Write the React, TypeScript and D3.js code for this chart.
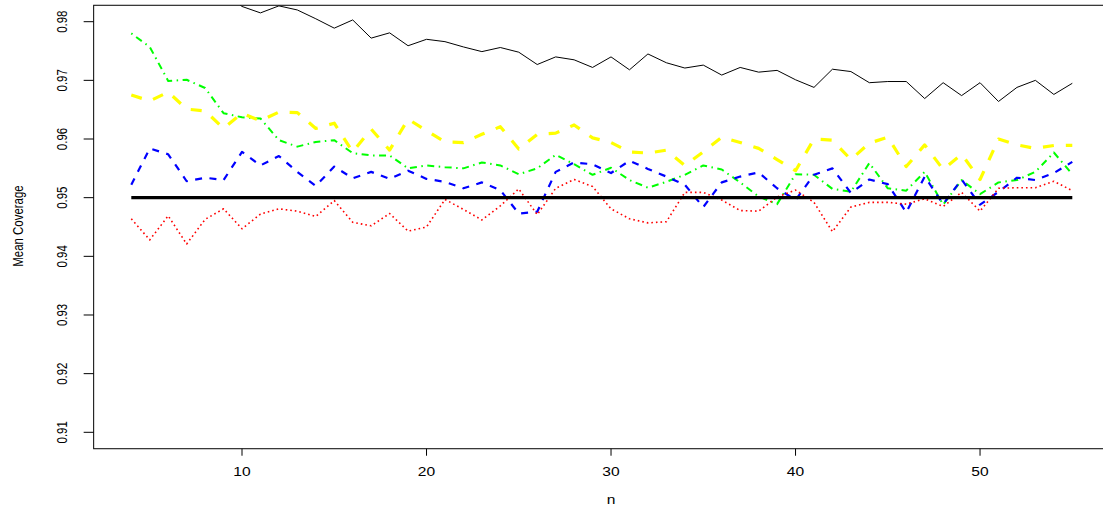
import React, { useEffect, useRef } from "react";
import * as d3 from "d3";

// sample sizes on the x axis
const nValues = [
  4, 5, 6, 7, 8, 9, 10, 11, 12, 13, 14, 15, 16, 17, 18, 19, 20, 21, 22, 23, 24,
  25, 26, 27, 28, 29, 30, 31, 32, 33, 34, 35, 36, 37, 38, 39, 40, 41, 42, 43,
  44, 45, 46, 47, 48, 49, 50, 51, 52, 53, 54, 55,
];

const blackSeries = [
  0.9905, 0.989, 0.988, 0.987, 0.9862, 0.9851, 0.9826, 0.9815, 0.9827, 0.982,
  0.9805, 0.9789, 0.9803, 0.9772, 0.9781, 0.9759, 0.977, 0.9766, 0.9757,
  0.9749, 0.9756, 0.9748, 0.9727, 0.974, 0.9735, 0.9722, 0.974, 0.9718, 0.9745,
  0.973, 0.9721, 0.9726, 0.9709, 0.9722, 0.9714, 0.9717, 0.9701, 0.9688,
  0.9719, 0.9715, 0.9696, 0.9698, 0.9698, 0.9669, 0.9696, 0.9674, 0.9696,
  0.9664, 0.9688, 0.97, 0.9676, 0.9695,
];

const greenSeries = [
  0.978, 0.9757, 0.9699, 0.9701, 0.9687, 0.9644, 0.9637, 0.9635, 0.9598,
  0.9587, 0.9595, 0.9598, 0.9576, 0.9572, 0.9572, 0.955, 0.9555, 0.9552, 0.955,
  0.956, 0.9555, 0.954, 0.955, 0.9573, 0.9557, 0.9539, 0.9551, 0.953, 0.9517,
  0.9527, 0.9539, 0.9555, 0.9548, 0.9526, 0.9502, 0.9489, 0.954, 0.9539,
  0.9515, 0.951, 0.9559, 0.9516, 0.9512, 0.9544, 0.9488, 0.953, 0.9506, 0.9526,
  0.953, 0.9544, 0.9577, 0.954,
];

const yellowSeries = [
  0.9675, 0.9665, 0.968, 0.9651, 0.9648, 0.9618, 0.9644, 0.9631, 0.9646,
  0.9645, 0.9618, 0.9627, 0.9578, 0.9617, 0.9581, 0.9634, 0.9614, 0.9595,
  0.9594, 0.9608, 0.9621, 0.9583, 0.9608, 0.961, 0.9624, 0.9602, 0.9594,
  0.9578, 0.9576, 0.9581, 0.9555, 0.9578, 0.9603, 0.9594, 0.9584, 0.9565,
  0.9546, 0.96, 0.9598, 0.9565, 0.9593, 0.9603, 0.9553, 0.959, 0.9548, 0.9574,
  0.9531, 0.96, 0.959, 0.9584, 0.9589, 0.9589,
];

const blueSeries = [
  0.9522, 0.9584, 0.9574, 0.9528, 0.9534, 0.953, 0.9578, 0.9555, 0.9571,
  0.9544, 0.952, 0.9553, 0.9533, 0.9544, 0.9532, 0.9546, 0.9532, 0.9527,
  0.9516, 0.9526, 0.9513, 0.9473, 0.9476, 0.9544, 0.956, 0.9557, 0.9542,
  0.9563, 0.9549, 0.9536, 0.9522, 0.9484, 0.9526, 0.9536, 0.9543, 0.9516,
  0.9496, 0.9539, 0.955, 0.9508, 0.9531, 0.9523, 0.9475, 0.9536, 0.9489,
  0.9531, 0.9488, 0.951, 0.9534, 0.953, 0.9542, 0.9561,
];

const redSeries = [
  0.9464, 0.9428, 0.9469, 0.9421, 0.9463, 0.9481, 0.9447, 0.9472, 0.9481,
  0.9477, 0.9468, 0.9495, 0.9458, 0.9452, 0.9473, 0.9443, 0.945, 0.9497,
  0.948, 0.9462, 0.9486, 0.9515, 0.9471, 0.9516, 0.9531, 0.9519, 0.9481,
  0.9464, 0.9457, 0.9459, 0.9509, 0.9509, 0.9496, 0.9478, 0.9477, 0.9501,
  0.9513, 0.9492, 0.9442, 0.9484, 0.9492, 0.9492, 0.9489, 0.9498, 0.9485,
  0.9509, 0.9477, 0.9516, 0.9517, 0.9517, 0.9528, 0.9512,
];

const nominalLevel = 0.95;

const xTicks = [10, 20, 30, 40, 50];
const yTicks = [0.91, 0.92, 0.93, 0.94, 0.95, 0.96, 0.97, 0.98];

const FONT = "'Liberation Sans', Arial, Helvetica, sans-serif";

const App = () => {
  const ref = useRef<SVGSVGElement | null>(null);

  useEffect(() => {
    draw();
  }, []);

  const draw = () => {
    if (!ref.current) return;
    const svg = d3.select(ref.current);
    svg.selectAll("*").remove();

    const x = d3.scaleLinear().domain([4, 55]).range([131.3, 1072.3]);
    const y = d3.scaleLinear().domain([0.91, 0.98]).range([432.3, 21.7]);

    // R style 4% padding around data range
    const xLo = x(4 - 0.04 * 51);
    const xHi = x(55 + 0.04 * 51);
    const yTop = y(0.98 + 0.04 * 0.07);
    const yBot = y(0.91 - 0.04 * 0.07);

    svg
      .append("defs")
      .append("clipPath")
      .attr("id", "plotclip")
      .append("rect")
      .attr("x", xLo)
      .attr("y", yTop)
      .attr("width", xHi - xLo)
      .attr("height", yBot - yTop);

    const plot = svg.append("g").attr("clip-path", "url(#plotclip)");

    const line = d3
      .line<number>()
      .x((_, i) => x(nValues[i]))
      .y((d) => y(d));

    const series = [
      { data: blackSeries, color: "#000000", width: 1, dash: null },
      { data: greenSeries, color: "#00ff00", width: 2, dash: "1.5 4.5 7 4.5" },
      { data: yellowSeries, color: "#ffff00", width: 3.2, dash: "11 12" },
      { data: blueSeries, color: "#0000ff", width: 2.2, dash: "7 7.5" },
      { data: redSeries, color: "#ff0000", width: 1.6, dash: "1.6 3" },
    ];

    series.forEach((s) => {
      plot
        .append("path")
        .datum(s.data)
        .attr("d", line)
        .attr("fill", "none")
        .attr("stroke", s.color)
        .attr("stroke-width", s.width)
        .attr("stroke-dasharray", s.dash)
        .attr("stroke-linejoin", "round");
    });

    // nominal coverage level
    plot
      .append("path")
      .datum(nValues.map(() => nominalLevel))
      .attr("d", line)
      .attr("fill", "none")
      .attr("stroke", "#000")
      .attr("stroke-width", 3.2);

    // box
    svg
      .append("rect")
      .attr("x", xLo)
      .attr("y", yTop)
      .attr("width", xHi - xLo)
      .attr("height", yBot - yTop)
      .attr("fill", "none")
      .attr("stroke", "#000")
      .attr("stroke-width", 1);

    // y axis
    const yAxis = svg.append("g");
    yAxis
      .selectAll("line")
      .data(yTicks)
      .enter()
      .append("line")
      .attr("x1", xLo - 10)
      .attr("x2", xLo)
      .attr("y1", (d) => y(d))
      .attr("y2", (d) => y(d))
      .attr("stroke", "#000");
    yAxis
      .selectAll("text")
      .data(yTicks)
      .enter()
      .append("text")
      .attr(
        "transform",
        (d) => `translate(67,${y(d)}) rotate(-90) scale(0.88,1.15)`,
      )
      .attr("text-anchor", "middle")
      .style("font-family", FONT)
      .style("font-size", "13px")
      .text((d) => d3.format(".2f")(d));

    // x axis
    const xAxis = svg.append("g");
    xAxis
      .selectAll("line")
      .data(xTicks)
      .enter()
      .append("line")
      .attr("x1", (d) => x(d))
      .attr("x2", (d) => x(d))
      .attr("y1", yBot)
      .attr("y2", yBot + 7)
      .attr("stroke", "#000");
    xAxis
      .selectAll("text")
      .data(xTicks)
      .enter()
      .append("text")
      .attr("transform", (d) => `translate(${x(d)},476) scale(1.2,1)`)
      .attr("text-anchor", "middle")
      .style("font-family", FONT)
      .style("font-size", "13px")
      .text((d) => d);

    // axis titles
    svg
      .append("text")
      .attr("transform", `translate(${x(30)},504) scale(1.2,1)`)
      .attr("text-anchor", "middle")
      .style("font-family", FONT)
      .style("font-size", "13px")
      .text("n");

    svg
      .append("text")
      .attr("transform", "translate(23,226) rotate(-90) scale(0.88,1.15)")
      .attr("text-anchor", "middle")
      .style("font-family", FONT)
      .style("font-size", "13px")
      .text("Mean Coverage");
  };

  return (
    <svg
      ref={ref}
      width={1103}
      height={508}
      style={{ position: "fixed", left: 0, top: 0, background: "#fff" }}
    />
  );
};

export default App;
